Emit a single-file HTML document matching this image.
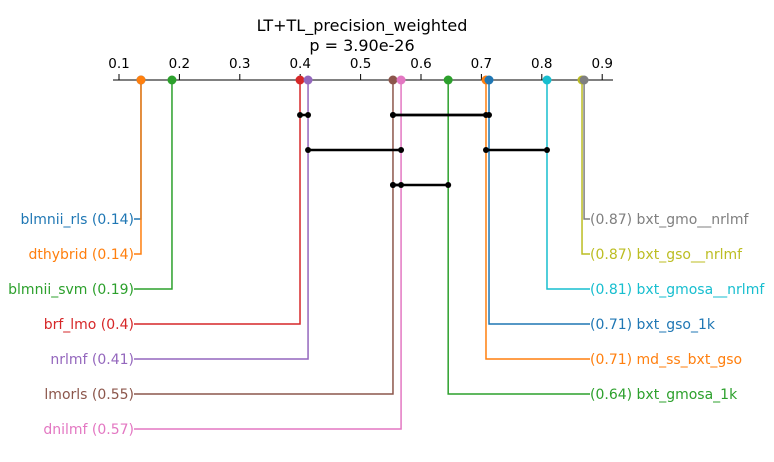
<!DOCTYPE html>
<html><head><meta charset="utf-8"><style>
body{margin:0;background:#fff;}
svg{display:block;font-family:"DejaVu Sans","Liberation Sans",sans-serif;}
</style></head><body>
<svg id="c" width="774" height="462">
<text x="362" y="31" font-size="16" text-anchor="middle">LT+TL_precision_weighted</text>
<text x="362" y="51" font-size="16" text-anchor="middle">p = 3.90e-26</text>
</svg>
<script>
const names=["blmnii_rls","dthybrid","blmnii_svm","brf_lmo","nrlmf","lmorls","dnilmf","bxt_gmosa_1k","md_ss_bxt_gso","bxt_gso_1k","bxt_gmosa__nrlmf","bxt_gso__nrlmf","bxt_gmo__nrlmf"];
const values=[0.1364,0.1364,0.1877,0.3997,0.413,0.5536,0.567,0.645,0.7076,0.7126,0.8086,0.8666,0.870];
const labels=["0.14","0.14","0.19","0.4","0.41","0.55","0.57","0.64","0.71","0.71","0.81","0.87","0.87"];
const colors=["#1f77b4","#ff7f0e","#2ca02c","#d62728","#9467bd","#8c564b","#e377c2","#2ca02c","#ff7f0e","#1f77b4","#17becf","#bcbd22","#7f7f7f"];
const ticks=[0.1,0.2,0.3,0.4,0.5,0.6,0.7,0.8,0.9];
const cliques=[[3,4],[5,9],[5,8],[4,6],[8,10],[5,7],[5,6]];
const cliqueY=[115,115,115,150,150,185,185];
const svg=document.getElementById('c');
const NS="http://www.w3.org/2000/svg";
const X=v=>119+(v-0.1)*604;
function mk(t,a){const e=document.createElementNS(NS,t);for(const k in a)e.setAttribute(k,a[k]);svg.appendChild(e);return e;}
let ax=mk('line',{x1:113,x2:613,y1:80,y2:80,stroke:'#000','stroke-width':1});


ticks.forEach(t=>{
 let l=mk('line',{x1:X(t),x2:X(t),y1:74,y2:80,stroke:'#000'});
 
 
 let tx=mk('text',{x:X(t),y:68,'font-size':13.5,'text-anchor':'middle'});tx.textContent=t.toFixed(1);
 
 
});
const left=7;
names.forEach((n,i)=>{
 const x=X(values[i]);let y,ex;
 if(i<left){y=219+35*i;ex=134;}else{y=219+35*(names.length-1-i);ex=590;}
 let p=mk('polyline',{points:`${x},80 ${x},${y} ${ex},${y}`,fill:'none',stroke:colors[i],'stroke-width':1.5});
 
 
 let t;
 if(i<left){t=mk('text',{x:ex,y:y+5,'font-size':14,'text-anchor':'end',fill:colors[i]});t.textContent=`${n} (${labels[i]})`;}
 else{t=mk('text',{x:ex,y:y+5,'font-size':14,fill:colors[i]});t.textContent=`(${labels[i]}) ${n}`;}
 
 
});
names.forEach((n,i)=>{
 let c=mk('circle',{cx:X(values[i]),cy:80,r:4.5,fill:colors[i]});
 
 
});
cliques.forEach((c,k)=>{
 const y=cliqueY[k];
 let l=mk('line',{x1:X(values[c[0]]),x2:X(values[c[1]]),y1:y,y2:y,stroke:'#000','stroke-width':2.5});
 
 
 [c[0],c[1]].forEach(i=>{let d=mk('circle',{cx:X(values[i]),cy:y,r:3,fill:'#000'});
 
 });
});
</script>
</body></html>
